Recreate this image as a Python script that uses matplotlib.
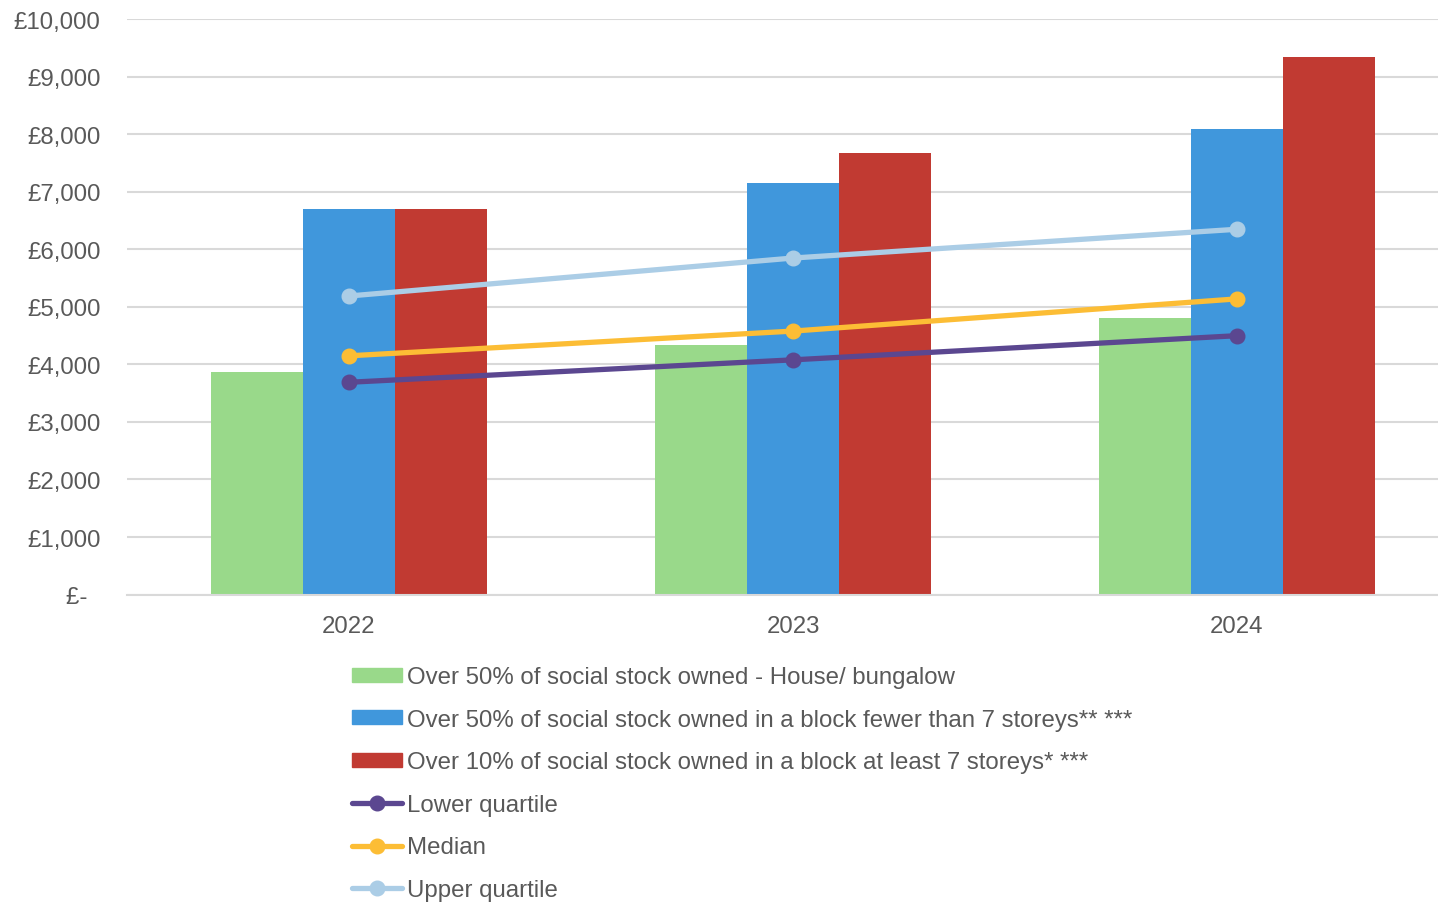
import numpy as np
import matplotlib.pyplot as plt
from matplotlib.ticker import FuncFormatter
from matplotlib.patches import Patch
from matplotlib.lines import Line2D

plt.rcParams['font.family'] = ['Liberation Sans', 'DejaVu Sans']

# data
years = ['2022', '2023', '2024']
house = [3860, 4330, 4800]
block_low = [6700, 7160, 8100]
block_high = [6700, 7670, 9340]
lower_q = [3690, 4080, 4500]
median = [4150, 4580, 5140]
upper_q = [5190, 5850, 6350]

bar_labels = ['Over 50% of social stock owned - House/ bungalow',
              'Over 50% of social stock owned in a block fewer than 7 storeys** ***',
              'Over 10% of social stock owned in a block at least 7 storeys* ***']
line_labels = ['Lower quartile', 'Median', 'Upper quartile']

bar_colors = ['#99d98a', '#4097dc', '#c13a32']
line_colors = ['#5b4790', '#fcbd35', '#abcde6']
text_col = '#595959'
grid_col = '#d9d9d9'
fs = 17.3

fig = plt.figure(figsize=(14.38, 9.03), dpi=100)
ax = fig.add_axes([0.0883, 0.3405, 0.9117, 0.637])

x = np.arange(len(years))
w = 0.207
for i, vals in enumerate([house, block_low, block_high]):
    ax.bar(x + (i - 1) * w, vals, width=w, color=bar_colors[i], zorder=2)

for vals, c in zip([lower_q, median, upper_q], line_colors):
    ax.plot(x, vals, color=c, lw=3.8, marker='o', ms=10.5, zorder=3,
            solid_capstyle='round')

ax.set_xlim(-0.5, 2.4527)
ax.set_ylim(0, 10000)
ax.set_yticks(np.arange(0, 10001, 1000))
ax.set_xticks(x)
ax.set_xticklabels(years)


def money(v, pos):
    if v == 0:
        return '£-  '
    return '£{:,.0f}'.format(v)


ax.yaxis.set_major_formatter(FuncFormatter(money))
ax.grid(axis='y', color=grid_col, lw=1.5, zorder=0)
for s in ['top', 'right', 'left']:
    ax.spines[s].set_visible(False)
ax.spines['bottom'].set_color(grid_col)
ax.spines['bottom'].set_linewidth(1.5)
ax.tick_params(axis='both', length=0, labelsize=fs, labelcolor=text_col)
ax.tick_params(axis='y', pad=19)
ax.tick_params(axis='x', pad=14.5)

handles = [Patch(color=c) for c in bar_colors]
handles += [Line2D([], [], color=c, lw=3.8, marker='o', ms=10.5,
                   solid_capstyle='round') for c in line_colors]
fig.legend(handles, bar_labels + line_labels, loc='upper left',
           bbox_to_anchor=(0.2448, 0.261), frameon=False, fontsize=fs,
           labelcolor=text_col, handlelength=2.1, handleheight=0.5,
           handletextpad=0.2, labelspacing=0.855, borderpad=0, borderaxespad=0)

fig.savefig('out.png', dpi=100)
